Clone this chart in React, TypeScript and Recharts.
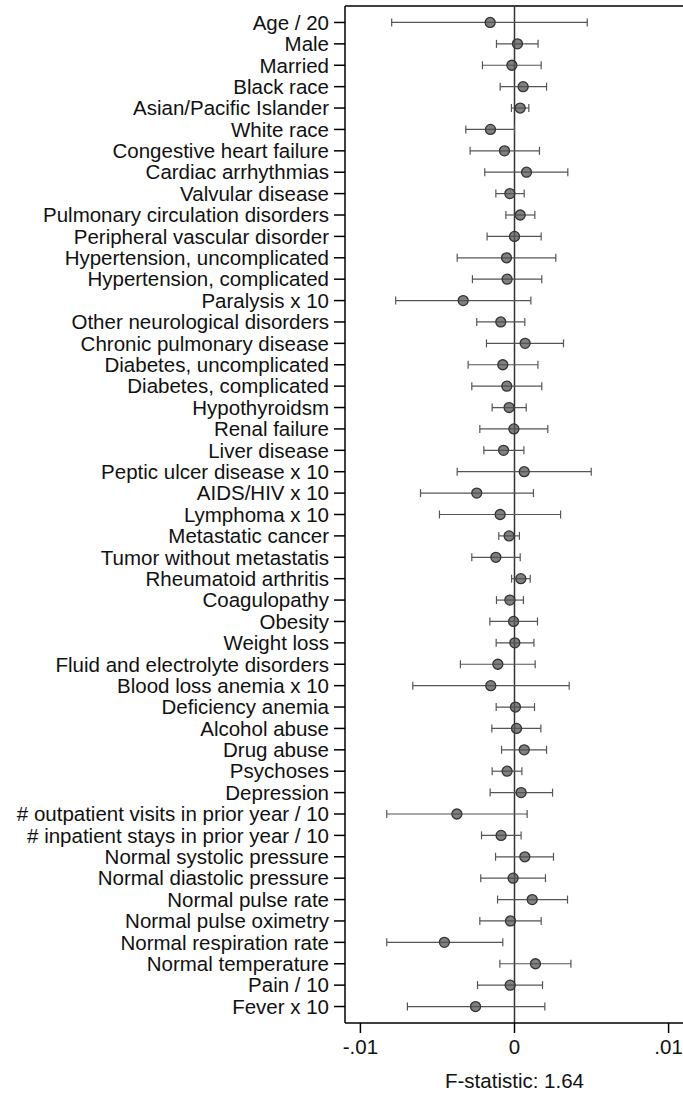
import { ScatterChart, Scatter, XAxis, YAxis, ErrorBar, ReferenceLine } from 'recharts';

const labels = [
  'Age / 20', 'Male', 'Married', 'Black race', 'Asian/Pacific Islander', 'White race',
  'Congestive heart failure', 'Cardiac arrhythmias', 'Valvular disease',
  'Pulmonary circulation disorders', 'Peripheral vascular disorder',
  'Hypertension, uncomplicated', 'Hypertension, complicated', 'Paralysis x 10',
  'Other neurological disorders', 'Chronic pulmonary disease', 'Diabetes, uncomplicated',
  'Diabetes, complicated', 'Hypothyroidsm', 'Renal failure', 'Liver disease',
  'Peptic ulcer disease x 10', 'AIDS/HIV x 10', 'Lymphoma x 10', 'Metastatic cancer',
  'Tumor without metastatis', 'Rheumatoid arthritis', 'Coagulopathy', 'Obesity',
  'Weight loss', 'Fluid and electrolyte disorders', 'Blood loss anemia x 10',
  'Deficiency anemia', 'Alcohol abuse', 'Drug abuse', 'Psychoses', 'Depression',
  '# outpatient visits in prior year / 10', '# inpatient stays in prior year / 10',
  'Normal systolic pressure', 'Normal diastolic pressure', 'Normal pulse rate',
  'Normal pulse oximetry', 'Normal respiration rate', 'Normal temperature',
  'Pain / 10', 'Fever x 10',
];

// estimates and confidence bounds, in thousandths
const estimate = [
  -1.58, 0.19, -0.17, 0.56, 0.37, -1.56, -0.65, 0.78, -0.3, 0.37, 0.0,
  -0.52, -0.48, -3.33, -0.89, 0.69, -0.76, -0.5, -0.35, -0.04, -0.71, 0.63,
  -2.45, -0.93, -0.35, -1.21, 0.41, -0.3, -0.06, 0.02, -1.08, -1.54, 0.06,
  0.13, 0.63, -0.48, 0.43, -3.74, -0.87, 0.67, -0.09, 1.15, -0.26, -4.55, 1.36,
  -0.28, -2.53,
];
const lower = [
  -7.97, -1.17, -2.08, -0.93, -0.2, -3.16, -2.88, -1.93, -1.21, -0.56, -1.78,
  -3.72, -2.73, -7.71, -2.45, -1.82, -3.01, -2.77, -1.45, -2.25, -1.99, -3.72,
  -6.1, -4.87, -1.02, -2.77, -0.19, -1.17, -1.6, -1.19, -3.51, -6.6, -1.19,
  -1.47, -0.84, -1.45, -1.58, -8.29, -2.14, -1.23, -2.19, -1.1, -2.25, -8.29, -0.95,
  -2.4, -6.95,
];
const upper = [
  4.72, 1.53, 1.73, 2.08, 0.93, 0.0, 1.62, 3.46, 0.63, 1.32, 1.73,
  2.68, 1.77, 1.06, 0.67, 3.18, 1.52, 1.77, 0.76, 2.16, 0.61, 4.98,
  1.23, 2.99, 0.32, 0.37, 1.02, 0.58, 1.49, 1.26, 1.34, 3.55, 1.3,
  1.71, 2.08, 0.48, 2.47, 0.82, 0.43, 2.53, 2.01, 3.44, 1.73, -0.76, 3.66,
  1.82, 1.97,
];

const xTicks = [-0.01, 0, 0.01];
const xTickLabels = ['-.01', '0', '.01'];
const title = 'F-statistic: 1.64';

const data = labels.map((name, i) => ({
  idx: i,
  name,
  est: estimate[i] / 1000,
  err: [(estimate[i] - lower[i]) / 1000, (upper[i] - estimate[i]) / 1000],
}));

const font = '"Liberation Sans", Arial, sans-serif';

const Dot = (props: any) => {
  const { cx, cy } = props;
  if (cx == null || cy == null) return null;
  return (
    <g>
      <circle cx={cx} cy={cy} r={5} fill="#555" fillOpacity={0.75} stroke="#333" strokeWidth={1.3} />
      <line x1={cx - 5} x2={cx + 5} y1={cy} y2={cy} stroke="#555" strokeOpacity={0.5} strokeWidth={1} />
    </g>
  );
};

const App = () => {
  return (
    <div style={{ position: 'absolute', left: 0, top: 0, width: 683, height: 1094, overflow: 'hidden', fontFamily: font }}>
      <ScatterChart width={684} height={1094} margin={{ top: 6, right: 0, bottom: 0, left: 0 }}>
        <XAxis
          type="number"
          dataKey="est"
          domain={[-0.011, 0.011]}
          allowDataOverflow
          ticks={xTicks}
          tickFormatter={(v: number) => xTickLabels[xTicks.indexOf(v)] ?? ''}
          tickSize={10}
          tickMargin={6}
          height={71}
          stroke="#000"
          strokeWidth={1.5}
          tick={{ fill: '#111', fontSize: 20.5, fontFamily: font }}
          label={{ value: title, position: 'insideBottom', offset: 6, fill: '#111', fontSize: 20.5, fontFamily: font }}
        />
        <YAxis
          type="number"
          dataKey="idx"
          domain={[-0.77, labels.length - 1 + 0.77]}
          allowDataOverflow
          reversed
          ticks={labels.map((_, i) => i)}
          interval={0}
          tickFormatter={(v: number) => labels[v] ?? ''}
          width={345}
          tickSize={11}
          tickMargin={5}
          stroke="#000"
          strokeWidth={1.5}
          tick={{ fill: '#111', fontSize: 20.5, fontFamily: font }}
        />
        <ReferenceLine y={-0.77} stroke="#000" strokeWidth={1.5} />
        <ReferenceLine x={0} stroke="#333" strokeWidth={1.5} />
        <Scatter data={data} shape={<Dot />} isAnimationActive={false}>
          <ErrorBar dataKey="err" direction="x" width={4} stroke="#555" strokeWidth={1.2} />
        </Scatter>
      </ScatterChart>
    </div>
  );
};

export default App;
